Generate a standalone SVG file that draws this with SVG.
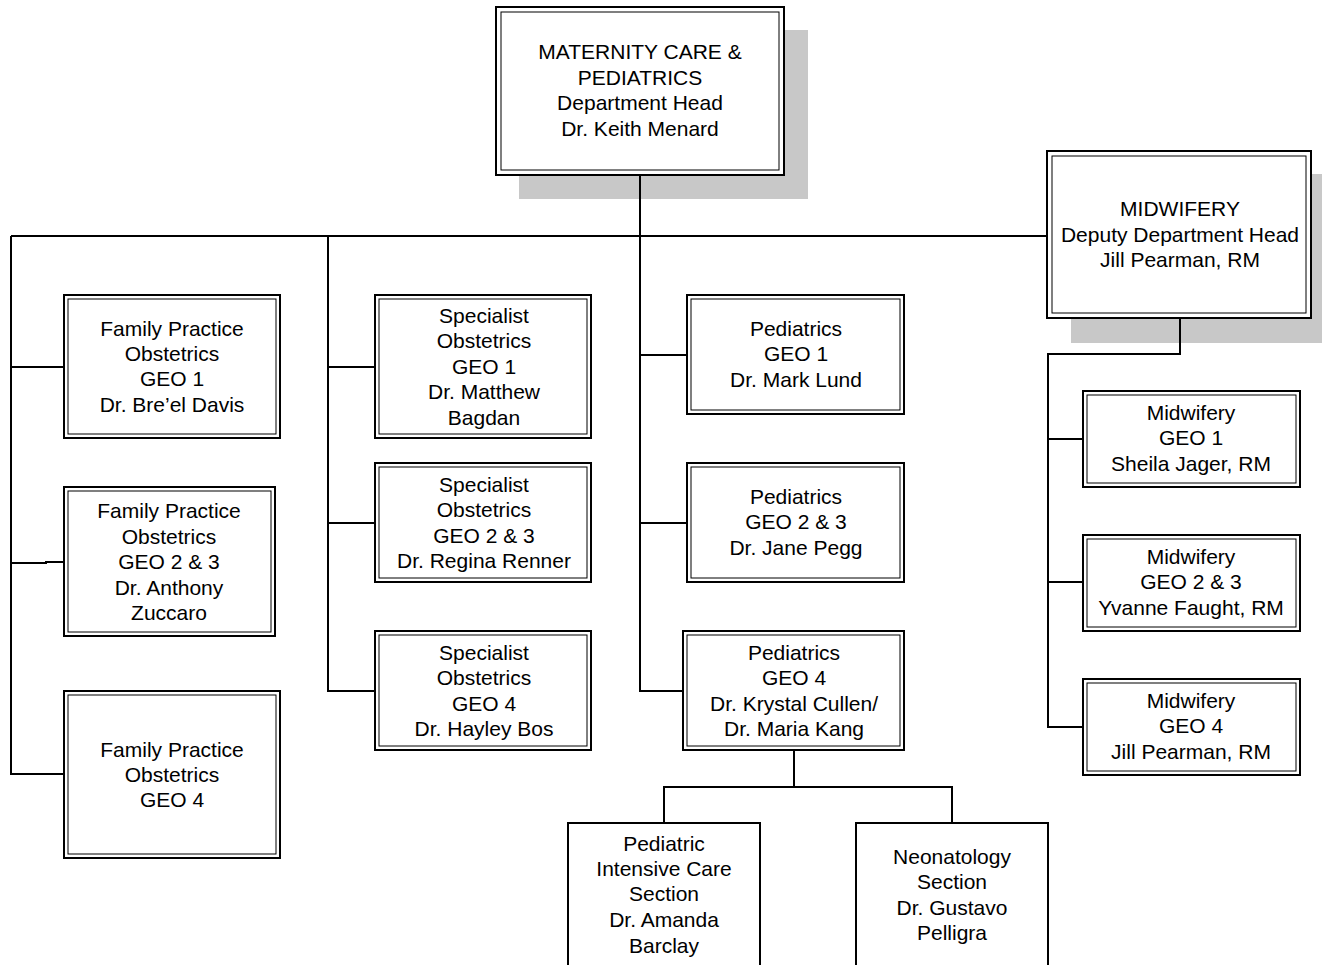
<svg xmlns="http://www.w3.org/2000/svg" width="1322" height="965" viewBox="0 0 1322 965">
<style>
.o{fill:#fff;stroke:#000;stroke-width:2}
.i{fill:none;stroke:#000;stroke-width:1}
.s{fill:#c8c8c8;stroke:none}
.c{fill:none;stroke:#000;stroke-width:2}
text{font-family:"Liberation Sans",Arial,sans-serif;font-size:21px;fill:#000;text-anchor:middle}
</style>
<rect width="1322" height="965" fill="#fff"/>
<g id="head">
<rect class="s" x="519" y="30" width="289" height="169"/>
<rect class="o" x="496" y="7" width="288" height="168"/>
<rect class="i" x="501" y="12" width="278" height="158"/>
<text x="640" y="59">MATERNITY CARE &amp;</text>
<text x="640" y="85">PEDIATRICS</text>
<text x="640" y="110">Department Head</text>
<text x="640" y="136">Dr. Keith Menard</text>
</g>
<g id="midwifery">
<rect class="s" x="1071" y="174" width="251" height="169"/>
<rect class="o" x="1047" y="151" width="264" height="167"/>
<rect class="i" x="1052" y="156" width="254" height="157"/>
<text x="1180" y="216">MIDWIFERY</text>
<text x="1180" y="242">Deputy Department Head</text>
<text x="1180" y="267">Jill Pearman, RM</text>
</g>
<g id="fp1">
<rect class="o" x="64" y="295" width="216" height="143"/>
<rect class="i" x="68" y="299" width="208" height="135"/>
<text x="172" y="336">Family Practice</text>
<text x="172" y="361">Obstetrics</text>
<text x="172" y="386">GEO 1</text>
<text x="172" y="412">Dr. Bre’el Davis</text>
</g>
<g id="fp2">
<rect class="o" x="64" y="487" width="211" height="149"/>
<rect class="i" x="68" y="491" width="203" height="141"/>
<text x="169" y="518">Family Practice</text>
<text x="169" y="544">Obstetrics</text>
<text x="169" y="569">GEO 2 &amp; 3</text>
<text x="169" y="595">Dr. Anthony</text>
<text x="169" y="620">Zuccaro</text>
</g>
<g id="fp3">
<rect class="o" x="64" y="691" width="216" height="167"/>
<rect class="i" x="68" y="695" width="208" height="159"/>
<text x="172" y="757">Family Practice</text>
<text x="172" y="782">Obstetrics</text>
<text x="172" y="807">GEO 4</text>
</g>
<g id="so1">
<rect class="o" x="375" y="295" width="216" height="143"/>
<rect class="i" x="379" y="299" width="208" height="135"/>
<text x="484" y="323">Specialist</text>
<text x="484" y="348">Obstetrics</text>
<text x="484" y="374">GEO 1</text>
<text x="484" y="399">Dr. Matthew</text>
<text x="484" y="425">Bagdan</text>
</g>
<g id="so2">
<rect class="o" x="375" y="463" width="216" height="119"/>
<rect class="i" x="379" y="467" width="208" height="111"/>
<text x="484" y="492">Specialist</text>
<text x="484" y="517">Obstetrics</text>
<text x="484" y="543">GEO 2 &amp; 3</text>
<text x="484" y="568">Dr. Regina Renner</text>
</g>
<g id="so3">
<rect class="o" x="375" y="631" width="216" height="119"/>
<rect class="i" x="379" y="635" width="208" height="111"/>
<text x="484" y="660">Specialist</text>
<text x="484" y="685">Obstetrics</text>
<text x="484" y="711">GEO 4</text>
<text x="484" y="736">Dr. Hayley Bos</text>
</g>
<g id="p1">
<rect class="o" x="687" y="295" width="217" height="119"/>
<rect class="i" x="691" y="299" width="209" height="111"/>
<text x="796" y="336">Pediatrics</text>
<text x="796" y="361">GEO 1</text>
<text x="796" y="387">Dr. Mark Lund</text>
</g>
<g id="p2">
<rect class="o" x="687" y="463" width="217" height="119"/>
<rect class="i" x="691" y="467" width="209" height="111"/>
<text x="796" y="504">Pediatrics</text>
<text x="796" y="529">GEO 2 &amp; 3</text>
<text x="796" y="555">Dr. Jane Pegg</text>
</g>
<g id="p3">
<rect class="o" x="683" y="631" width="221" height="119"/>
<rect class="i" x="687" y="635" width="213" height="111"/>
<text x="794" y="660">Pediatrics</text>
<text x="794" y="685">GEO 4</text>
<text x="794" y="711">Dr. Krystal Cullen/</text>
<text x="794" y="736">Dr. Maria Kang</text>
</g>
<g id="m1">
<rect class="o" x="1083" y="391" width="217" height="96"/>
<rect class="i" x="1087" y="395" width="209" height="88"/>
<text x="1191" y="420">Midwifery</text>
<text x="1191" y="445">GEO 1</text>
<text x="1191" y="471">Sheila Jager, RM</text>
</g>
<g id="m2">
<rect class="o" x="1083" y="535" width="217" height="96"/>
<rect class="i" x="1087" y="539" width="209" height="88"/>
<text x="1191" y="564">Midwifery</text>
<text x="1191" y="589">GEO 2 &amp; 3</text>
<text x="1191" y="615">Yvanne Faught, RM</text>
</g>
<g id="m3">
<rect class="o" x="1083" y="679" width="217" height="96"/>
<rect class="i" x="1087" y="683" width="209" height="88"/>
<text x="1191" y="708">Midwifery</text>
<text x="1191" y="733">GEO 4</text>
<text x="1191" y="759">Jill Pearman, RM</text>
</g>
<g id="picu">
<rect class="o" x="568" y="823" width="192" height="160"/>
<text x="664" y="851">Pediatric</text>
<text x="664" y="876">Intensive Care</text>
<text x="664" y="901">Section</text>
<text x="664" y="927">Dr. Amanda</text>
<text x="664" y="953">Barclay</text>
</g>
<g id="neo">
<rect class="o" x="856" y="823" width="192" height="160"/>
<text x="952" y="864">Neonatology</text>
<text x="952" y="889">Section</text>
<text x="952" y="915">Dr. Gustavo</text>
<text x="952" y="940">Pelligra</text>
</g>
<g id="connectors">
<path class="c" d="M640,176V691H683"/>
<path class="c" d="M11,236H1046"/>
<path class="c" d="M11,236V774H63"/>
<path class="c" d="M11,367H63"/>
<path class="c" d="M11,563H46V562H63"/>
<path class="c" d="M328,236V691H374"/>
<path class="c" d="M328,367H374"/>
<path class="c" d="M328,523H374"/>
<path class="c" d="M640,355H686"/>
<path class="c" d="M640,523H686"/>
<path class="c" d="M1180,319V354H1048V727H1082"/>
<path class="c" d="M1048,439H1082"/>
<path class="c" d="M1048,582H1082"/>
<path class="c" d="M794,751V787"/>
<path class="c" d="M664,822V787H952V822"/>
</g>
</svg>
